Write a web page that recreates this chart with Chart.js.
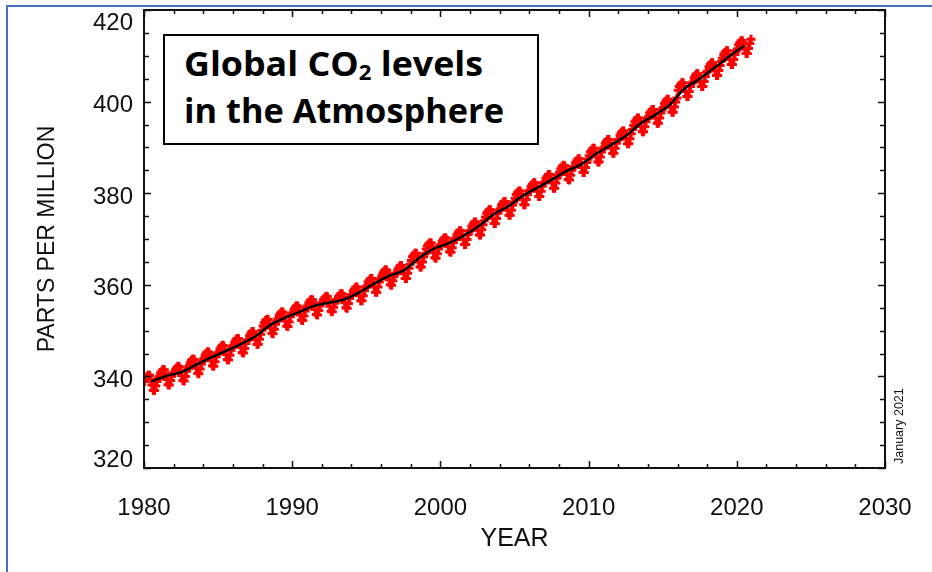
<!DOCTYPE html>
<html>
<head>
<meta charset="utf-8">
<script src="https://cdn.jsdelivr.net/npm/chart.js@4/dist/chart.umd.min.js"></script>
<style>
  html, body { margin: 0; padding: 0; background: #fff; }
  #wrap { position: relative; width: 932px; height: 572px; overflow: hidden; }
  #frameTop { position: absolute; left: 6px; top: 5px; width: 930px; height: 0; border-top: 2px solid #4472C4; }
  #frameLeft { position: absolute; left: 6px; top: 5px; width: 0; height: 580px; border-left: 2px solid #4472C4; }
  #titleBox { position: absolute; left: 163px; top: 34px; width: 376px; height: 111px; box-sizing: border-box;
    border: 2px solid #000; background: #fff;
    font-family: "Open Sans", Lato, sans-serif; font-weight: 700; font-size: 34px; color: #000; }
  #titleBox .l { position: absolute; left: 19px; white-space: nowrap; line-height: 1; transform-origin: 0 50%; }
  #titleBox sub { font-size: 0.62em; vertical-align: -0.18em; line-height: 0; }
  #stamp { position: absolute; left: 893px; top: 464px; transform-origin: 0 0; transform: rotate(-90deg);
    font-family: "Liberation Sans", Arial, sans-serif; font-size: 12.5px; color: #111; white-space: nowrap; line-height: 13px; }
  canvas { position: absolute; left: 0; top: 0; }
</style>
</head>
<body>
<div id="wrap">
  <canvas id="c" width="932" height="572"></canvas>
  <div id="frameTop"></div>
  <div id="frameLeft"></div>
  <div id="titleBox">
    <div class="l" id="t1" style="top:10px">Global CO<sub>2</sub> levels</div>
    <div class="l" id="t2" style="top:57px">in the Atmosphere</div>
  </div>
  <div id="stamp">January 2021</div>
</div>
<script>
// ---- Data ----
const years = [1980,1981,1982,1983,1984,1985,1986,1987,1988,1989,
               1990,1991,1992,1993,1994,1995,1996,1997,1998,1999,
               2000,2001,2002,2003,2004,2005,2006,2007,2008,2009,
               2010,2011,2012,2013,2014,2015,2016,2017,2018,2019,
               2020];

// Monthly global mean CO2 (ppm), one row per year, Jan..Dec
const co2_1980s = [
  [338.9,339.6,340.0,340.3,340.2,339.4,338.1,337.0,336.9,337.9,338.9,339.6],
  [340.1,340.8,341.2,341.5,341.4,340.6,339.3,338.2,338.1,339.1,340.1,340.8],
  [340.7,341.4,341.9,342.2,342.1,341.3,340.2,339.1,339.0,340.0,341.1,341.8],
  [342.3,343.0,343.5,343.8,343.7,342.9,341.8,340.7,340.6,341.6,342.7,343.4],
  [343.9,344.6,345.1,345.4,345.3,344.5,343.4,342.3,342.2,343.2,344.3,345.0],
  [345.3,346.0,346.5,346.8,346.7,345.9,344.8,343.7,343.6,344.6,345.7,346.4],
  [346.8,347.5,348.0,348.3,348.2,347.4,346.3,345.2,345.1,346.1,347.2,347.9],
  [348.0,348.9,349.4,349.8,349.8,349.1,348.0,347.0,347.0,348.1,349.2,350.1],
  [351.0,351.7,352.2,352.5,352.4,351.6,350.5,349.4,349.3,350.3,351.4,352.1],
  [352.6,353.3,353.8,354.1,354.0,353.2,352.1,351.0,350.9,351.9,353.0,353.7]
];
const co2_1990s = [
  [353.9,354.6,355.1,355.4,355.3,354.5,353.4,352.3,352.2,353.2,354.3,355.0],
  [355.4,356.1,356.5,356.8,356.7,355.9,354.6,353.5,353.4,354.4,355.4,356.1],
  [356.1,356.8,357.2,357.5,357.4,356.6,355.3,354.2,354.1,355.1,356.1,356.8],
  [356.6,357.3,357.8,358.1,358.0,357.2,356.1,355.0,354.9,355.9,357.0,357.7],
  [357.9,358.7,359.1,359.5,359.5,358.7,357.6,356.5,356.5,357.6,358.7,359.4],
  [359.8,360.6,361.0,361.4,361.4,360.6,359.5,358.4,358.4,359.5,360.6,361.3],
  [361.9,362.6,363.0,363.3,363.2,362.4,361.1,360.0,359.9,360.9,361.9,362.6],
  [362.4,363.3,363.8,364.2,364.2,363.5,362.4,361.4,361.4,362.5,363.6,364.5],
  [365.3,366.1,366.5,366.9,366.9,366.1,365.0,363.9,363.9,365.0,366.1,366.8],
  [367.8,368.5,368.9,369.2,369.1,368.3,367.0,365.9,365.8,366.8,367.8,368.5]
];
const co2_2000s = [
  [368.8,369.5,370.0,370.3,370.2,369.4,368.3,367.2,367.1,368.1,369.2,369.9],
  [370.2,371.0,371.4,371.8,371.8,371.0,369.9,368.8,368.8,369.9,371.0,371.7],
  [371.9,372.8,373.3,373.7,373.7,373.0,371.9,370.9,370.9,372.0,373.1,374.0],
  [374.8,375.6,376.0,376.4,376.4,375.6,374.5,373.4,373.4,374.5,375.6,376.3],
  [376.6,377.4,377.8,378.2,378.2,377.4,376.3,375.2,375.2,376.3,377.4,378.1],
  [378.9,379.7,380.1,380.5,380.5,379.7,378.6,377.5,377.5,378.6,379.7,380.4],
  [380.7,381.5,381.9,382.3,382.3,381.5,380.4,379.3,379.3,380.4,381.5,382.2],
  [382.5,383.3,383.7,384.1,384.1,383.3,382.2,381.1,381.1,382.2,383.3,384.0],
  [384.6,385.3,385.8,386.1,386.0,385.2,384.1,383.0,382.9,383.9,385.0,385.7],
  [385.9,386.7,387.1,387.5,387.5,386.7,385.6,384.5,384.5,385.6,386.7,387.4]
];
const co2_2010s = [
  [388.2,389.0,389.4,389.8,389.8,389.0,387.9,386.8,386.8,387.9,389.0,389.7],
  [390.1,390.9,391.3,391.7,391.7,390.9,389.8,388.7,388.7,389.8,390.9,391.6],
  [391.8,392.7,393.2,393.6,393.6,392.9,391.8,390.8,390.8,391.9,393.0,393.9],
  [394.8,395.6,396.0,396.4,396.4,395.6,394.5,393.4,393.4,394.5,395.6,396.3],
  [396.7,397.5,397.9,398.3,398.3,397.5,396.4,395.3,395.3,396.4,397.5,398.2],
  [398.7,399.6,400.1,400.5,400.5,399.8,398.7,397.7,397.7,398.8,399.9,400.8],
  [402.5,403.3,403.7,404.1,404.1,403.3,402.2,401.1,401.1,402.2,403.3,404.0],
  [404.3,405.2,405.7,406.1,406.1,405.4,404.3,403.3,403.3,404.4,405.5,406.4],
  [406.7,407.6,408.1,408.5,408.5,407.8,406.7,405.7,405.7,406.8,407.9,408.8],
  [409.5,410.3,410.7,411.1,411.1,410.3,409.2,408.1,408.1,409.2,410.3,411.0]
];
const co2_2020s = [
  [411.5,412.4,412.9,413.3,413.3,412.6,411.5,410.5,410.5,411.6,412.7,413.6]
];

// Deseasonalized trend (annual means, ppm)
const trendPpm = [338.9,340.1,340.9,342.5,344.1,345.5,347.0,348.7,351.2,352.8,
                  354.1,355.4,356.1,356.8,358.3,360.2,361.9,363.1,365.7,367.8,
                  369.0,370.6,372.6,375.2,377.0,379.3,381.1,382.9,384.8,386.3,
                  388.6,390.5,392.5,395.2,397.1,399.4,402.9,405.0,407.4,409.9,
                  412.2];

const xTickLabels = [1980,1990,2000,2010,2020,2030];
const yTickLabels = [320,340,360,380,400,420];

// ---- Build library datasets from the arrays ----
const allMonthly = [].concat(co2_1980s, co2_1990s, co2_2000s, co2_2010s, co2_2020s);
const monthlyPoints = [];
allMonthly.forEach((row, i) => {
  row.forEach((v, m) => monthlyPoints.push({ x: years[i] + (m + 0.5) / 12, y: v }));
});
const trendPoints = trendPpm.map((v, i) => ({ x: years[i] + 0.5, y: v }));

// End labels of the y axis sit inside the frame, as in the reference
const edgeLabels = {
  id: 'edgeLabels',
  beforeDraw(chart) {
    const s = chart.scales.y;
    s.getLabelItems().forEach(it => {
      if (it._shifted) return;
      if (it.label === String(yTickLabels[yTickLabels.length - 1])) it.options.translation[1] += 9;
      if (it.label === String(yTickLabels[0])) it.options.translation[1] -= 12;
      it._shifted = true;
    });
  }
};

const inwardTicks = {
  id: 'inwardTicks',
  afterDraw(chart) {
    const { ctx, chartArea: a, scales } = chart;
    ctx.save();
    ctx.strokeStyle = '#111';
    ctx.lineWidth = 1.5;
    const xs = scales.x, ys = scales.y;
    xs.ticks.forEach(t => {
      const px = Math.round(xs.getPixelForValue(t.value)) + 0.5;
      const L = xTickLabels.includes(t.value) ? 7 : 4;
      ctx.beginPath();
      ctx.moveTo(px, a.bottom); ctx.lineTo(px, a.bottom - L);
      ctx.moveTo(px, a.top); ctx.lineTo(px, a.top + L);
      ctx.stroke();
    });
    ys.ticks.forEach(t => {
      const py = Math.round(ys.getPixelForValue(t.value)) + 0.5;
      const L = yTickLabels.includes(t.value) ? 7 : 5;
      ctx.beginPath();
      ctx.moveTo(a.left, py); ctx.lineTo(a.left + L, py);
      ctx.moveTo(a.right, py); ctx.lineTo(a.right - L, py);
      ctx.stroke();
    });
    ctx.lineWidth = 2;
    ctx.strokeStyle = '#111';
    ctx.strokeRect(a.left, a.top, a.right - a.left, a.bottom - a.top);
    ctx.restore();
  }
};

new Chart(document.getElementById('c'), {
  type: 'scatter',
  data: {
    datasets: [
      {
        label: 'Trend',
        data: trendPoints,
        showLine: true,
        borderColor: '#000',
        borderWidth: 2.5,
        pointRadius: 0,
        tension: 0.3
      },
      {
        label: 'Monthly mean',
        data: monthlyPoints,
        pointStyle: 'cross',
        pointRadius: 4.5,
        borderColor: '#ff0000',
        backgroundColor: '#ff0000',
        pointBorderWidth: 3,
        showLine: false
      }
    ]
  },
  options: {
    responsive: false,
    animation: false,
    events: [],
    layout: { padding: { left: 0, top: 10, right: 47, bottom: 0 } },
    plugins: { legend: { display: false }, tooltip: { enabled: false } },
    scales: {
      x: {
        type: 'linear',
        min: 1980, max: 2030,
        grid: { display: false, drawTicks: false },
        border: { display: false },
        ticks: {
          stepSize: 2, autoSkip: false, maxRotation: 0, padding: 26,
          color: '#111',
          font: { family: 'Liberation Sans', size: 24 },
          callback: v => xTickLabels.includes(v) ? String(v) : ''
        },
        title: {
          display: true, text: 'YEAR', color: '#111',
          font: { family: 'Liberation Sans', size: 25 },
          padding: { top: 0, bottom: 18 }
        },
        afterFit: s => { s.height = 104; s.paddingLeft = 0; s.paddingRight = 0; }
      },
      y: {
        type: 'linear',
        min: 320, max: 420,
        grid: { display: false, drawTicks: false },
        border: { display: false },
        ticks: {
          stepSize: 5, autoSkip: false, padding: 11, labelOffset: 4,
          color: '#111',
          font: { family: 'Liberation Sans', size: 24 },
          callback: v => yTickLabels.includes(v) ? String(v) : ''
        },
        title: {
          display: true, text: 'PARTS PER MILLION', color: '#111',
          font: { family: 'Liberation Sans', size: 23 },
          padding: { top: 34, bottom: 0 }
        },
        afterFit: s => { s.width = 144; s.paddingTop = 0; s.paddingBottom = 0; }
      }
    }
  },
  plugins: [edgeLabels, inwardTicks]
});

// Fit the title-box lines to the reference widths
function fitTitle() {
  const t1 = document.getElementById('t1'), t2 = document.getElementById('t2');
  t1.style.transform = 'none'; t2.style.transform = 'none';
  const w1 = t1.getBoundingClientRect().width;
  const w2 = t2.getBoundingClientRect().width;
  t1.style.transform = 'scaleX(' + (299 / w1) + ')';
  t2.style.transform = 'scaleX(' + (320 / w2) + ')';
}
fitTitle();
if (document.fonts && document.fonts.ready) document.fonts.ready.then(fitTitle);
</script>
</body>
</html>
